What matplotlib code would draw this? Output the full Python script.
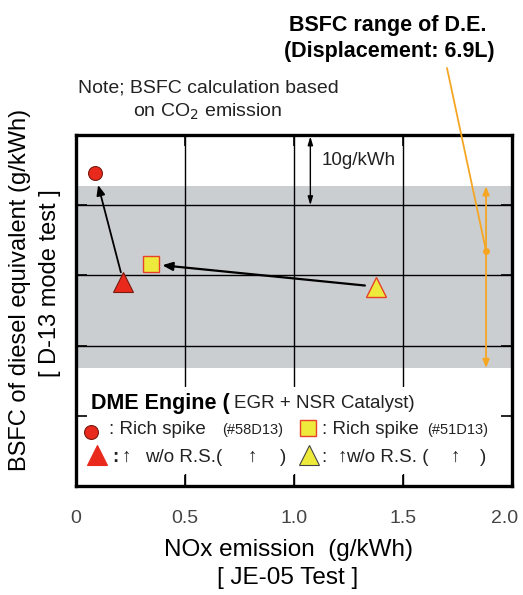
import matplotlib.pyplot as plt
import matplotlib.transforms as mtransforms
import numpy as np

plt.rcParams['font.family'] = ['Liberation Sans', 'DejaVu Sans']

# data
x_ticks = [0, 0.5, 1.0, 1.5, 2.0]
x_tick_labels = ['0', '0.5', '1.0', '1.5', '2.0']
y_grid = [10, 20, 30, 40]

rs_58_x, rs_58_y = [0.087], [44.6]        # rich spike, #58D13
nors_58_x, nors_58_y = [0.217], [29.1]    # w/o R.S., #58D13
rs_51_x, rs_51_y = [0.345], [31.6]        # rich spike, #51D13
nors_51_x, nors_51_y = [1.376], [28.4]    # w/o R.S., #51D13

de_band = [16.8, 42.7]   # BSFC range of diesel engine
de_x = 1.881
de_dot = 33.5

RED = '#E8291C'
YEL = '#EEEA3C'
ORANGE = '#F5A623'
GRAY = '#CBCED1'
TXT = '#222222'

fig = plt.figure(figsize=(5.23, 5.95), dpi=100)
ax = fig.add_axes([76/523, 1-486/595, 436/523, 351/595])
ax.set_xlim(0, 2.0)
ax.set_ylim(0, 50)

# grey band + grid
ax.axhspan(de_band[0], de_band[1], color=GRAY, lw=0, zorder=0.5)
for y in y_grid:
    ax.axhline(y, color='black', lw=1.0, zorder=1)
for x in x_ticks[1:-1]:
    ax.axvline(x, color='black', lw=1.0, zorder=1)
# white legend area
ax.axhspan(1.7, 14.1, color='white', lw=0, zorder=1.5)

for s in ax.spines.values():
    s.set_linewidth(2.4)
ax.set_xticks(x_ticks)
ax.set_xticklabels(x_tick_labels, fontsize=14, color='#444444')
ax.set_yticks(y_grid)
ax.set_yticklabels([])
ax.tick_params(direction='in', length=8, width=1.2, top=True, right=True, pad=17)
# keep the last label inside the picture
last = ax.get_xticklabels()[-1]
last.set_transform(last.get_transform() +
                   mtransforms.ScaledTranslation(-5/72, 0, fig.dpi_scale_trans))

# arrows between points
ax.annotate('', xy=(rs_58_x[0], rs_58_y[0]), xytext=(nors_58_x[0], nors_58_y[0]),
            arrowprops=dict(arrowstyle='-|>,head_length=0.6,head_width=0.25', color='black',
                            lw=1.3, shrinkA=7, shrinkB=9), zorder=3)
ax.annotate('', xy=(rs_51_x[0], rs_51_y[0]), xytext=(nors_51_x[0], nors_51_y[0]),
            arrowprops=dict(arrowstyle='-|>,head_length=0.6,head_width=0.25', color='black',
                            lw=1.6, shrinkA=8, shrinkB=8), zorder=3)

# points
ax.plot(rs_58_x, rs_58_y, 'o', ms=10, mfc=RED, mec='#7a1a10', mew=0.8, zorder=4)
ax.plot(nors_58_x, nors_58_y, '^', ms=15, mfc=RED, mec='#7a1a10', mew=0.8, zorder=4)
ax.plot(rs_51_x, rs_51_y, 's', ms=11, mfc=YEL, mec='#E8402A', mew=1.0, zorder=4)
ax.plot(nors_51_x, nors_51_y, '^', ms=15, mfc=YEL, mec='#E8402A', mew=1.0, zorder=4)

# 10 g/kWh scale arrow
ax.annotate('', xy=(1.075, 40), xytext=(1.075, 50),
            arrowprops=dict(arrowstyle='<|-|>,head_length=0.5,head_width=0.15', color='black',
                            lw=1.0, shrinkA=1, shrinkB=0), zorder=3)
ax.text(1.125, 46.3, '10g/kWh', fontsize=13.5, va='center', ha='left', color=TXT)

# diesel engine range
ax.annotate('', xy=(de_x, de_band[0]), xytext=(de_x, de_band[1]),
            arrowprops=dict(arrowstyle='<|-|>,head_length=0.5,head_width=0.2', color=ORANGE,
                            lw=1.3, shrinkA=0, shrinkB=0), zorder=3)
ax.plot([de_x], [de_dot], 'o', ms=4, color=ORANGE, zorder=4)
ax.annotate('', xy=(de_x, de_dot), xytext=(447/523, 1-68/595), textcoords='figure fraction',
            arrowprops=dict(arrowstyle='-', color=ORANGE, lw=1.3, shrinkA=0, shrinkB=0),
            annotation_clip=False, zorder=3)

fig.text(388/523, 1-25/595, 'BSFC range of D.E.', fontsize=15.5, fontweight='bold',
         ha='center', va='center')
fig.text(389/523, 1-52/595, '(Displacement: 6.9L)', fontsize=15.5, fontweight='bold',
         ha='center', va='center')
fig.text(78/523, 1-88/595, 'Note; BSFC calculation based', fontsize=14, color=TXT,
         ha='left', va='center')
fig.text(133/523, 1-112/595, 'on CO$_2$ emission', fontsize=14, color=TXT,
         ha='left', va='center')

# axis labels
fig.text(288/523, 1-550/595, 'NOx emission  (g/kWh)', fontsize=17.5, ha='center', va='center')
fig.text(288/523, 1-578/595, '[ JE-05 Test ]', fontsize=17.5, ha='center', va='center')
fig.text(20/523, 1-290/595, 'BSFC of diesel equivalent (g/kWh)', fontsize=17,
         rotation=90, ha='center', va='center')
fig.text(50/523, 1-283/595, '[ D-13 mode test ]', fontsize=17,
         rotation=90, ha='center', va='center')

# legend block
def fx(px):
    return (px - 76) / 436

def fy(py):
    return (486 - py) / 351

def ltext(px, py, s, size=13.5, **kw):
    ax.text(fx(px), fy(py), s, fontsize=size, color=kw.pop('color', TXT),
            transform=ax.transAxes, ha='left', va='center', zorder=5, **kw)

ltext(91, 403, 'DME Engine (', size=15.5, fontweight='bold', color='black')
ltext(234, 404, 'EGR + NSR Catalyst)')

ax.plot([fx(91)], [fy(432)], 'o', ms=10, mfc=RED, mec='#7a1a10', mew=0.8,
        transform=ax.transAxes, zorder=5, clip_on=False)
ltext(109, 430, ': Rich spike')
ltext(222, 430, '(#58D13)', size=10.5)
ax.plot([fx(308)], [fy(428)], 's', ms=11, mfc=YEL, mec='#E8402A', mew=1.0,
        transform=ax.transAxes, zorder=5, clip_on=False)
ltext(322, 430, ': Rich spike')
ltext(427, 430, '(#51D13)', size=10.5)

ax.plot([fx(97)], [fy(455)], '^', ms=14, mfc=RED, mec=RED, mew=0.8,
        transform=ax.transAxes, zorder=5, clip_on=False)
ltext(112, 457, ':', fontweight='bold')
ltext(122, 457, '\u2191')
ltext(145, 457, 'w/o R.S.(')
ltext(248, 457, '\u2191')
ltext(280, 457, ')')
ax.plot([fx(309)], [fy(455)], '^', ms=14, mfc=YEL, mec='#444444', mew=0.8,
        transform=ax.transAxes, zorder=5, clip_on=False)
ltext(321, 457, ':')
ltext(338, 457, '\u2191')
ltext(346, 457, 'w/o R.S. (')
ltext(451, 457, '\u2191')
ltext(480, 457, ')')

fig.savefig('out.png', dpi=100)
